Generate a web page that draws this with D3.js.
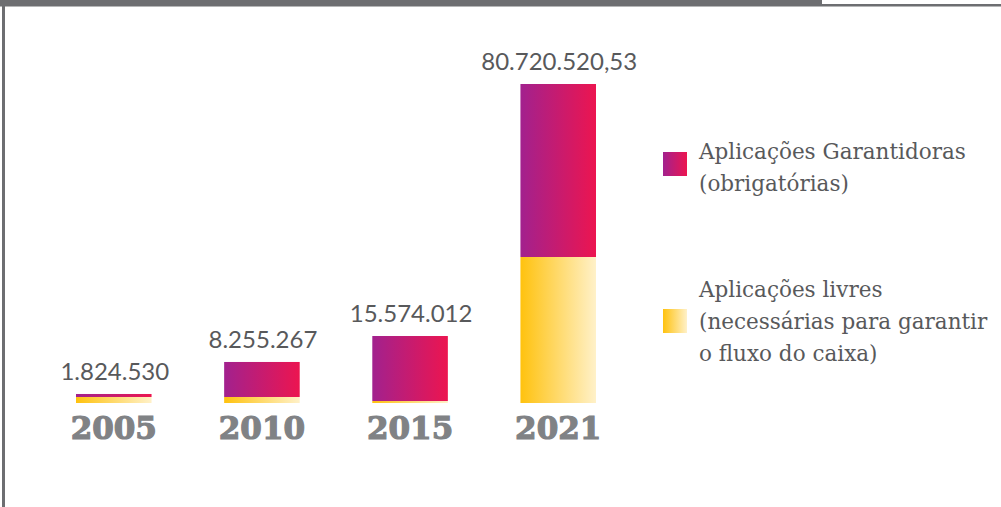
<!DOCTYPE html>
<html>
<head>
<meta charset="utf-8">
<script src="https://cdn.jsdelivr.net/npm/d3@7/dist/d3.min.js"></script>
<style>
  body { margin: 0; background: #fff; }
</style>
</head>
<body>
<script>
var w = 1001, h = 507;

// values in millions
var years = ["2005", "2010", "2015", "2021"];
var livres = [1.52, 1.52, 0.5, 36.94];
var garantidoras = [0.76, 8.86, 16.45, 43.77];
var totalLabels = ["1.824.530", "8.255.267", "15.574.012", "80.720.520,53"];

var legendGarant = ["Aplicações Garantidoras", "(obrigatórias)"];
var legendLivres = ["Aplicações livres", "(necessárias para garantir", "o fluxo do caixa)"];

var svg = d3.select("body").append("svg")
  .attr("width", w)
  .attr("height", h);

// gradients
var defs = svg.append("defs");
function grad(id, c1, c2) {
  var g = defs.append("linearGradient").attr("id", id)
    .attr("x1", 0).attr("y1", 0).attr("x2", 1).attr("y2", 0);
  g.append("stop").attr("offset", "0%").attr("stop-color", c1);
  g.append("stop").attr("offset", "100%").attr("stop-color", c2);
}
grad("gMag", "#a2218e", "#ec1550");
grad("gYel", "#ffc20e", "#fff1c9");

// frame: top bar + left rule
svg.append("rect").attr("x", 0).attr("y", 0).attr("width", 822).attr("height", 6.5).attr("fill", "#6d6e71");
svg.append("rect").attr("x", 822).attr("y", 4).attr("width", w - 822).attr("height", 2.5).attr("fill", "#6d6e71");
svg.append("rect").attr("x", 2).attr("y", 0).attr("width", 3).attr("height", h).attr("fill", "#6d6e71");

var x = d3.scaleBand()
  .domain(years)
  .range([76, 596])
  .paddingInner(0.49)
  .paddingOuter(0);

var y = d3.scaleLinear()
  .domain([0, 80.71])
  .range([403, 84]);

var data = years.map(function(yr, i) {
  return { year: yr, livres: livres[i], garant: garantidoras[i], label: totalLabels[i] };
});

// yellow (bottom)
svg.selectAll(".livres")
  .data(data)
  .enter().append("rect")
  .attr("class", "livres")
  .attr("x", d => x(d.year))
  .attr("width", x.bandwidth())
  .attr("y", d => y(d.livres))
  .attr("height", d => y(0) - y(d.livres))
  .attr("fill", "url(#gYel)");

// magenta (top)
svg.selectAll(".garant")
  .data(data)
  .enter().append("rect")
  .attr("class", "garant")
  .attr("x", d => x(d.year))
  .attr("width", x.bandwidth())
  .attr("y", d => y(d.livres + d.garant))
  .attr("height", d => y(d.livres) - y(d.livres + d.garant))
  .attr("fill", "url(#gMag)");

// value labels
svg.selectAll(".val")
  .data(data)
  .enter().append("text")
  .attr("class", "val")
  .attr("x", d => x(d.year) + x.bandwidth() / 2 + 1)
  .attr("y", d => y(d.livres + d.garant) - 14)
  .attr("text-anchor", "middle")
  .attr("font-family", "Lato, sans-serif")
  .attr("font-size", "24px")
  .attr("fill", "#58595b")
  .text(d => d.label);

// year labels
svg.selectAll(".yr")
  .data(data)
  .enter().append("text")
  .attr("class", "yr")
  .attr("x", d => x(d.year) + x.bandwidth() / 2)
  .attr("y", 439)
  .attr("text-anchor", "middle")
  .attr("font-family", "DejaVu Serif, serif")
  .attr("font-weight", "bold")
  .attr("font-size", "31px")
  .attr("fill", "#808285")
  .attr("stroke", "#808285")
  .attr("stroke-width", 1.2)
  .text(d => d.year);

// legend
var leg = [
  { fill: "url(#gMag)", sy: 152, lines: legendGarant, ty: 159 },
  { fill: "url(#gYel)", sy: 309, lines: legendLivres, ty: 297 }
];
leg.forEach(function(l) {
  svg.append("rect")
    .attr("x", 663).attr("y", l.sy)
    .attr("width", 24).attr("height", 24)
    .attr("fill", l.fill);
  svg.append("text")
    .attr("x", 699).attr("y", l.ty)
    .attr("font-family", "DejaVu Serif, serif")
    .attr("font-size", "21.5px")
    .attr("fill", "#58595b")
    .selectAll("tspan")
    .data(l.lines)
    .enter().append("tspan")
    .attr("x", 699)
    .attr("dy", (d, i) => i === 0 ? 0 : 32)
    .text(d => d);
});
</script>
</body>
</html>
